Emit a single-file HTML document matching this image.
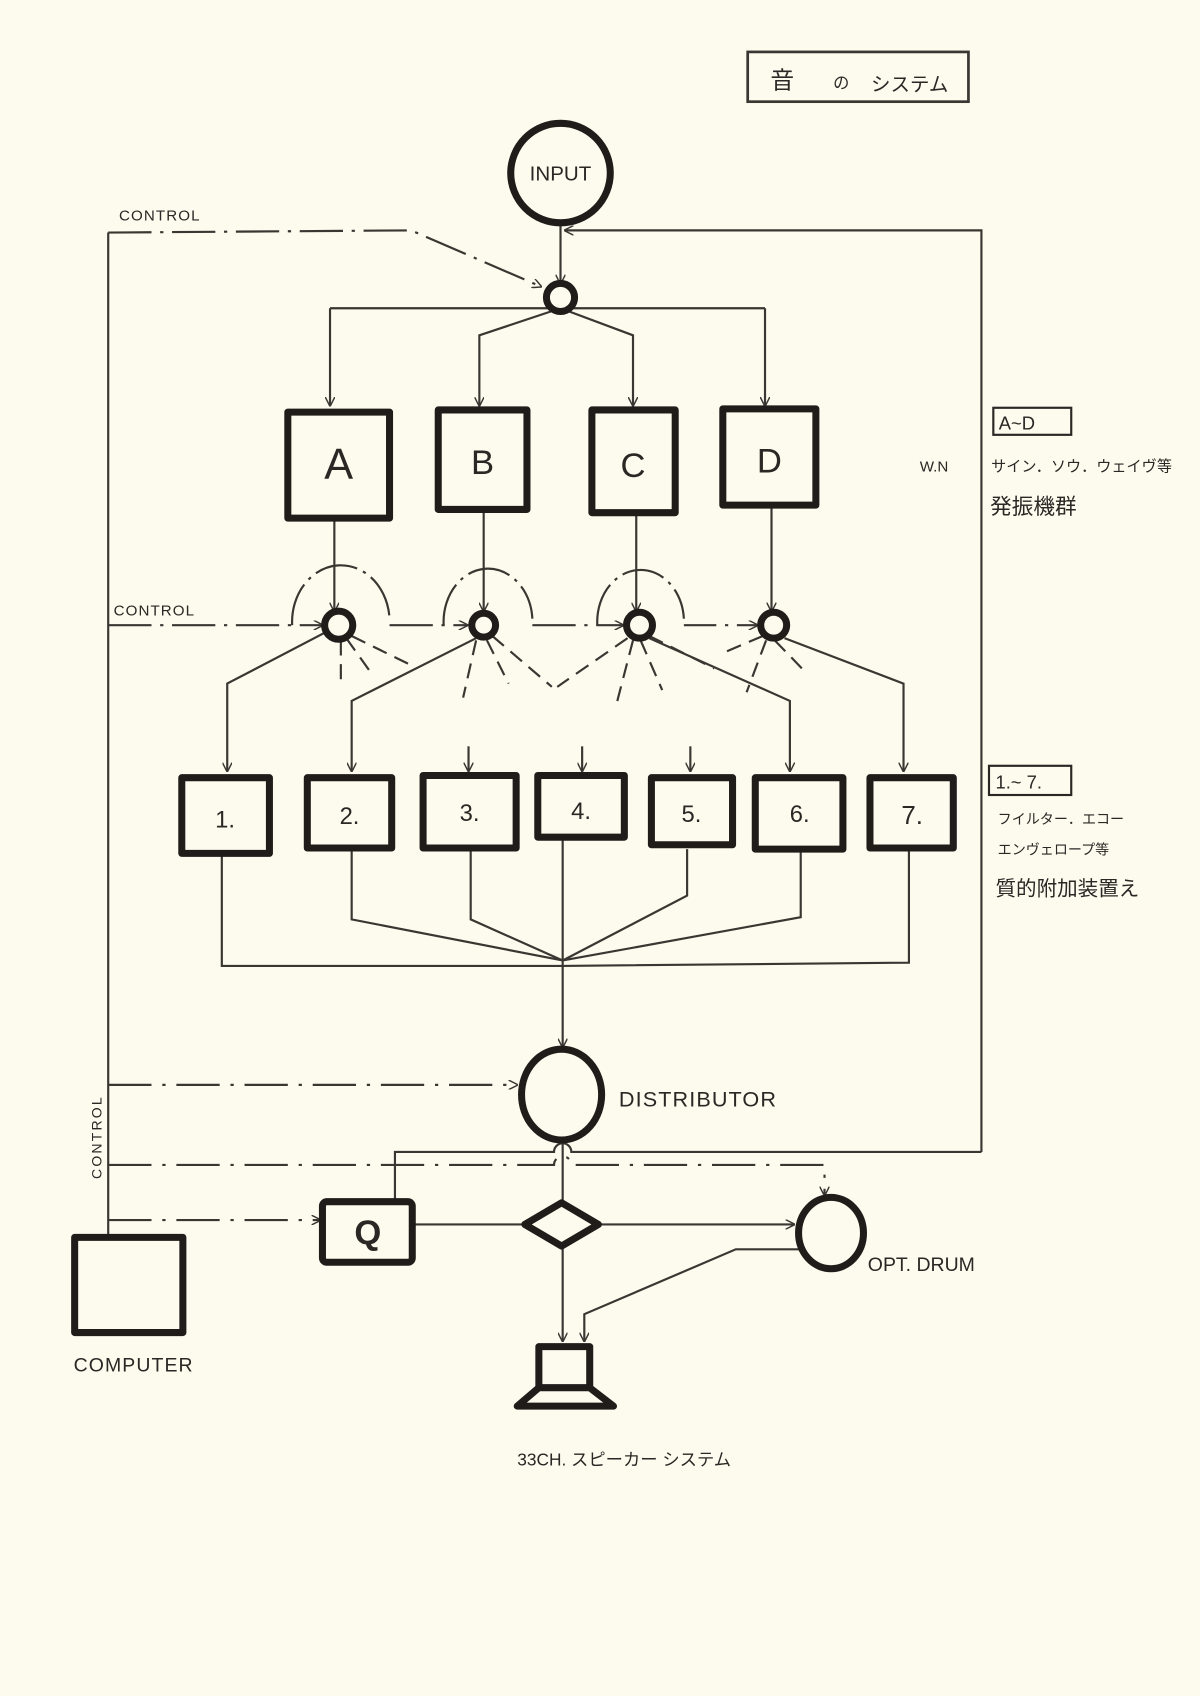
<!DOCTYPE html>
<html><head><meta charset="utf-8"><style>
html,body{margin:0;padding:0;background:#fcfbee;}
svg{display:block}
text{font-family:"Liberation Sans","Noto Sans CJK JP",sans-serif;fill:#2a2724}
</style></head><body>
<svg width="1200" height="1696" viewBox="0 0 1109 1568" preserveAspectRatio="none" xmlns="http://www.w3.org/2000/svg">
<defs>
<marker id="ar" viewBox="0 0 10 10" refX="9" refY="5" markerWidth="9" markerHeight="9" orient="auto" markerUnits="userSpaceOnUse">
<path d="M0,0 L10,5 L0,10" fill="none" stroke="#3a3632" stroke-width="1.5"/></marker>
</defs>
<rect width="1109" height="1568" fill="#fcfbee"/>
<g fill="none" stroke="#3a3632" stroke-width="2">
<!-- title box -->
<rect x="691" y="48" width="204" height="46" stroke-width="2.5"/>
<!-- control left vertical -->
<path d="M100 215 V1145"/>
<path d="M100 215 L380 213 L500 265" stroke-dasharray="40 8 3 8" marker-end="url(#ar)"/>
<!-- feedback -->
<path d="M907 1065 V213 H522" marker-end="url(#ar)"/>
<path d="M907 1065 H528 A8 8 0 0 0 512 1065 H365 V1110"/>
<!-- input to node -->
<path d="M518 207 V262" marker-end="url(#ar)"/>
<path d="M305 285 H707"/>
<path d="M305 285 V375" marker-end="url(#ar)"/>
<path d="M707 285 V375" marker-end="url(#ar)"/>
<path d="M518 285 L443 310 V375" marker-end="url(#ar)"/>
<path d="M518 285 L585 310 V375" marker-end="url(#ar)"/>
<!-- boxes to nodes -->
<path d="M309 482 V565" marker-end="url(#ar)"/>
<path d="M447 474 V565" marker-end="url(#ar)"/>
<path d="M588 477 V565" marker-end="url(#ar)"/>
<path d="M713 470 V565" marker-end="url(#ar)"/>
<!-- arcs -->
<path d="M270 578 A43 50 0 0 1 360 572" stroke-dasharray="40 6 3 6"/>
<path d="M410 578 A40 48 0 0 1 492 572" stroke-dasharray="40 6 3 6"/>
<path d="M552 578 A40 48 0 0 1 632 572" stroke-dasharray="40 6 3 6"/>
<!-- control row -->
<path d="M100 578 H298" stroke-dasharray="40 8 3 8" marker-end="url(#ar)"/>
<path d="M360 578 H432" stroke-dasharray="40 8 3 8" marker-end="url(#ar)"/>
<path d="M492 578 H576" stroke-dasharray="40 8 3 8" marker-end="url(#ar)"/>
<path d="M632 578 H700" stroke-dasharray="30 8 3 8" marker-end="url(#ar)"/>
<!-- fans -->
<path d="M300 585 L210 632 V713" marker-end="url(#ar)"/>
<path d="M440 590 L325 648 V713" marker-end="url(#ar)"/>
<path d="M725 590 L835 632 V713" marker-end="url(#ar)"/>
<path d="M600 590 L730 648 V713" marker-end="url(#ar)"/>
<g stroke-dasharray="14 8">
<path d="M315 592 V630"/><path d="M320 590 L345 625"/><path d="M325 588 L380 615"/>
<path d="M440 592 L428 645"/><path d="M450 592 L470 632"/><path d="M455 588 L510 635"/>
<path d="M585 592 L570 650"/><path d="M592 592 L612 638"/><path d="M600 588 L660 618"/><path d="M580 590 L515 635"/>
<path d="M708 592 L690 640"/><path d="M716 592 L745 622"/><path d="M705 588 L665 605"/>
</g>
<path d="M433 690 V713" marker-end="url(#ar)"/>
<path d="M538 690 V713" marker-end="url(#ar)"/>
<path d="M638 690 V713" marker-end="url(#ar)"/>
<!-- bottom collector -->
<path d="M205 790 V893 H520 L840 890 V785"/>
<path d="M325 785 V850 L520 888 L435 850 V785"/>
<path d="M635 785 V828 L520 888 L740 848 V785"/>
<path d="M520 775 V968" marker-end="url(#ar)"/>
<!-- bottom control dash -->
<path d="M100 1003 H478" stroke-dasharray="40 10 3 10" marker-end="url(#ar)"/>
<path d="M100 1077 H512 A8 8 0 0 1 528 1077 H762 V1105" stroke-dasharray="40 10 3 10" marker-end="url(#ar)"/>
<path d="M100 1128 H296" stroke-dasharray="40 10 3 10" marker-end="url(#ar)"/>
<path d="M520 1055 V1110"/>
<path d="M383 1132 H485"/>
<path d="M555 1132 H734" marker-end="url(#ar)"/>
<path d="M520 1152 V1240" marker-end="url(#ar)"/>
<path d="M740 1155 H680 L540 1215 V1240" marker-end="url(#ar)"/>
</g>
<!-- thick shapes -->
<g fill="#fcfbee" stroke="#1f1c1a" stroke-width="6.5" stroke-linejoin="round">
<ellipse cx="518" cy="160" rx="46" ry="46"/>
<circle cx="518" cy="275" r="13"/>
<rect x="266" y="381" width="94" height="98"/>
<rect x="405" y="379" width="82" height="92"/>
<rect x="547" y="379" width="77" height="95"/>
<rect x="668" y="378" width="86" height="89"/>
<circle cx="313" cy="578" r="13"/>
<circle cx="447" cy="578" r="11"/>
<circle cx="591" cy="578" r="12"/>
<circle cx="715" cy="578" r="12"/>
<rect x="168" y="719" width="81" height="70"/>
<rect x="284" y="719" width="78" height="65"/>
<rect x="391" y="717" width="86" height="67"/>
<rect x="497" y="717" width="80" height="57"/>
<rect x="602" y="719" width="75" height="62"/>
<rect x="698" y="719" width="81" height="66"/>
<rect x="804" y="719" width="77" height="65"/>
<ellipse cx="519" cy="1012" rx="37" ry="42"/>
<rect x="298" y="1111" width="83" height="56" rx="4"/>
<path d="M519 1112 L553 1132 L519 1152 L485 1132 Z"/>
<ellipse cx="768" cy="1140" rx="30" ry="33"/>
<rect x="69" y="1144" width="100" height="88"/>
<rect x="498" y="1245" width="47" height="38"/>
<path d="M498 1283 L478 1300 H567 L545 1283 Z"/>
</g>
<rect x="918" y="377" width="72" height="25" fill="none" stroke="#2a2724" stroke-width="2"/>
<rect x="914" y="708" width="76" height="27" fill="none" stroke="#2a2724" stroke-width="2"/>
<!-- texts -->
<text x="712" y="82" font-size="22">音</text>
<text x="770" y="82" font-size="15">の</text>
<text x="805" y="84" font-size="18">システム</text>
<text x="518" y="167" font-size="19" text-anchor="middle">INPUT</text>
<text x="110" y="204" font-size="14" letter-spacing="1">CONTROL</text>
<text x="105" y="569" font-size="14" letter-spacing="1">CONTROL</text>
<text x="313" y="443" font-size="40" text-anchor="middle">A</text>
<text x="446" y="438" font-size="32" text-anchor="middle">B</text>
<text x="585" y="441" font-size="32" text-anchor="middle">C</text>
<text x="711" y="437" font-size="32" text-anchor="middle">D</text>
<text x="208" y="765" font-size="22" text-anchor="middle">1.</text>
<text x="323" y="762" font-size="22" text-anchor="middle">2.</text>
<text x="434" y="759" font-size="22" text-anchor="middle">3.</text>
<text x="537" y="757" font-size="22" text-anchor="middle">4.</text>
<text x="639" y="760" font-size="22" text-anchor="middle">5.</text>
<text x="739" y="760" font-size="22" text-anchor="middle">6.</text>
<text x="843" y="762" font-size="24" text-anchor="middle">7.</text>
<text x="572" y="1023" font-size="20" letter-spacing="1">DISTRIBUTOR</text>
<text transform="translate(94,1090) rotate(-90)" font-size="13" letter-spacing="2">CONTROL</text>
<text x="340" y="1150" font-size="32" font-weight="bold" text-anchor="middle" fill="#1f1c1a">Q</text>
<text x="802" y="1175" font-size="18">OPT. DRUM</text>
<text x="68" y="1268" font-size="18" letter-spacing="1">COMPUTER</text>
<text x="478" y="1355" font-size="16">33CH. スピーカー システム</text>
<text x="923" y="397" font-size="17">A~D</text>
<text x="850" y="436" font-size="14">W.N</text>
<text x="916" y="436" font-size="14">サイン．ソウ．ウェイヴ等</text>
<text x="915" y="475" font-size="20">発振機群</text>
<text x="920" y="729" font-size="17">1.~ 7.</text>
<text x="922" y="762" font-size="13">フイルター．エコー</text>
<text x="922" y="790" font-size="13">エンヴェロープ等</text>
<text x="920" y="828" font-size="19">質的附加装置え</text>
</svg>
</body></html>
